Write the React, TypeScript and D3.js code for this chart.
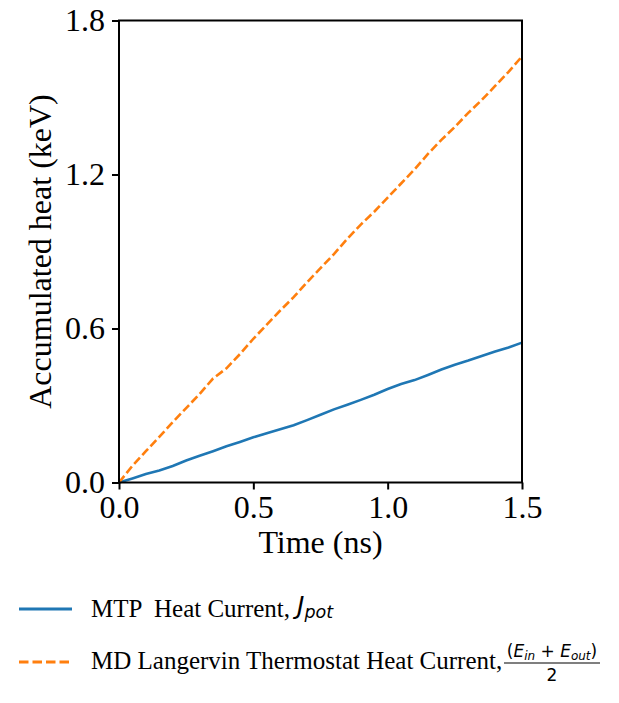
import { useEffect, useRef } from 'react';
import * as d3 from 'd3';

// time axis (ns) shared by both series
const timeNs = [0, 0.05, 0.1, 0.15, 0.2, 0.25, 0.3, 0.35, 0.4, 0.45, 0.5, 0.55, 0.6, 0.65, 0.7, 0.75, 0.8, 0.85, 0.9, 0.95, 1.0, 1.05, 1.1, 1.15, 1.2, 1.25, 1.3, 1.35, 1.4, 1.45, 1.5];

// MTP heat current (keV)
const mtpHeat = [0, 0.016, 0.033, 0.047, 0.064, 0.086, 0.104, 0.122, 0.141, 0.158, 0.176, 0.192, 0.207, 0.223, 0.243, 0.264, 0.285, 0.303, 0.322, 0.342, 0.364, 0.384, 0.399, 0.419, 0.44, 0.459, 0.475, 0.493, 0.51, 0.526, 0.545];

// MD Langevin thermostat heat current (keV)
const mdHeat = [0, 0.065, 0.122, 0.178, 0.235, 0.29, 0.345, 0.405, 0.445, 0.5, 0.56, 0.615, 0.67, 0.722, 0.78, 0.835, 0.89, 0.95, 1.005, 1.055, 1.11, 1.165, 1.22, 1.28, 1.335, 1.385, 1.44, 1.49, 1.545, 1.6, 1.66];

const xTicks = [0, 0.5, 1.0, 1.5];
const yTicks = [0, 0.6, 1.2, 1.8];

const SERIF = '"Liberation Serif", "Times New Roman", serif';
const MATH = '"DejaVu Sans", sans-serif';
const BLUE = '#1f77b4';
const ORANGE = '#ff7f0e';

export default function App() {
    const ref = useRef<SVGSVGElement>(null);

    useEffect(() => {
        const svg = d3.select(ref.current);
        svg.selectAll('*').remove();

        const left = 119, right = 522, top = 20.5, bottom = 482.5;

        const x = d3.scaleLinear().domain([0, 1.5]).range([left, right]);
        const y = d3.scaleLinear().domain([0, 1.8]).range([bottom, top]);

        const plot = svg.append('g');

        // lines
        const line = d3.line<number>()
            .x((d, i) => x(timeNs[i]))
            .y(d => y(d));

        plot.append('path')
            .datum(mtpHeat)
            .attr('fill', 'none')
            .attr('stroke', BLUE)
            .attr('stroke-width', 2.6)
            .attr('d', line);

        plot.append('path')
            .datum(mdHeat)
            .attr('fill', 'none')
            .attr('stroke', ORANGE)
            .attr('stroke-width', 2.6)
            .attr('stroke-dasharray', '8.5,3.5')
            .attr('d', line);

        // frame
        plot.append('rect')
            .attr('x', left)
            .attr('y', top)
            .attr('width', right - left)
            .attr('height', bottom - top)
            .attr('fill', 'none')
            .attr('stroke', 'black')
            .attr('stroke-width', 2);

        // x axis
        const xAxis = d3.axisBottom(x)
            .tickValues(xTicks)
            .tickFormat(d3.format('.1f'))
            .tickSize(7)
            .tickPadding(6);
        const gx = svg.append('g')
            .attr('transform', `translate(0,${bottom})`)
            .call(xAxis);
        gx.select('.domain').remove();
        gx.selectAll('line').attr('stroke', 'black').attr('stroke-width', 2);
        gx.selectAll('text')
            .attr('font-family', SERIF)
            .attr('font-size', 32)
            .attr('fill', 'black');

        // y axis
        const yAxis = d3.axisLeft(y)
            .tickValues(yTicks)
            .tickFormat(d3.format('.1f'))
            .tickSize(7)
            .tickPadding(7);
        const gy = svg.append('g')
            .attr('transform', `translate(${left},0)`)
            .call(yAxis);
        gy.select('.domain').remove();
        gy.selectAll('line').attr('stroke', 'black').attr('stroke-width', 2);
        gy.selectAll('text')
            .attr('font-family', SERIF)
            .attr('font-size', 32)
            .attr('fill', 'black');

        // axis titles
        svg.append('text')
            .attr('x', (left + right) / 2)
            .attr('y', 553)
            .attr('text-anchor', 'middle')
            .attr('font-family', SERIF)
            .attr('font-size', 32)
            .text('Time (ns)');

        svg.append('text')
            .attr('transform', `translate(51,${(top + bottom) / 2}) rotate(-90)`)
            .attr('text-anchor', 'middle')
            .attr('font-family', SERIF)
            .attr('font-size', 32)
            .text('Accumulated heat (keV)');

        // legend
        const lg = svg.append('g');

        lg.append('line')
            .attr('x1', 19).attr('x2', 72)
            .attr('y1', 609).attr('y2', 609)
            .attr('stroke', BLUE)
            .attr('stroke-width', 2.8);

        const t1 = lg.append('text')
            .attr('x', 91).attr('y', 617)
            .attr('font-family', SERIF)
            .attr('font-size', 25)
            .style('white-space', 'pre');
        t1.append('tspan').text('MTP  Heat Current,');
        t1.append('tspan')
            .attr('font-family', MATH)
            .attr('font-style', 'italic')
            .attr('dx', 7)
            .attr('dy', -3)
            .text('J');
        t1.append('tspan')
            .attr('font-family', MATH)
            .attr('font-style', 'italic')
            .attr('font-size', 17.5)
            .attr('dy', 4)
            .text('pot');

        lg.append('line')
            .attr('x1', 19).attr('x2', 72)
            .attr('y1', 662).attr('y2', 662)
            .attr('stroke', ORANGE)
            .attr('stroke-width', 2.8)
            .attr('stroke-dasharray', '9.5,4');

        lg.append('text')
            .attr('x', 91).attr('y', 669)
            .attr('font-family', SERIF)
            .attr('font-size', 25)
            .text('MD Langervin Thermostat Heat Current,');

        const fracX = 504, fracW = 96;
        const num = lg.append('text')
            .attr('x', fracX + fracW / 2).attr('y', 657)
            .attr('text-anchor', 'middle')
            .attr('font-family', MATH)
            .attr('font-size', 17)
            .style('white-space', 'pre');
        num.append('tspan').text('(');
        num.append('tspan').attr('font-style', 'italic').text('E');
        num.append('tspan').attr('font-style', 'italic').attr('font-size', 12).attr('dy', 3).text('in');
        num.append('tspan').attr('dy', -3).text(' + ');
        num.append('tspan').attr('font-style', 'italic').text('E');
        num.append('tspan').attr('font-style', 'italic').attr('font-size', 12).attr('dy', 3).text('out');
        num.append('tspan').attr('dy', -3).text(')');

        lg.append('line')
            .attr('x1', fracX).attr('x2', fracX + fracW)
            .attr('y1', 663).attr('y2', 663)
            .attr('stroke', 'black')
            .attr('stroke-width', 1.2);

        lg.append('text')
            .attr('x', fracX + fracW / 2).attr('y', 681)
            .attr('text-anchor', 'middle')
            .attr('font-family', MATH)
            .attr('font-size', 17)
            .text('2');
    }, []);

    return (
        <svg
            ref={ref}
            width={619}
            height={703}
            style={{ position: 'absolute', left: 0, top: 0, background: 'white' }}
        ></svg>
    );
}
